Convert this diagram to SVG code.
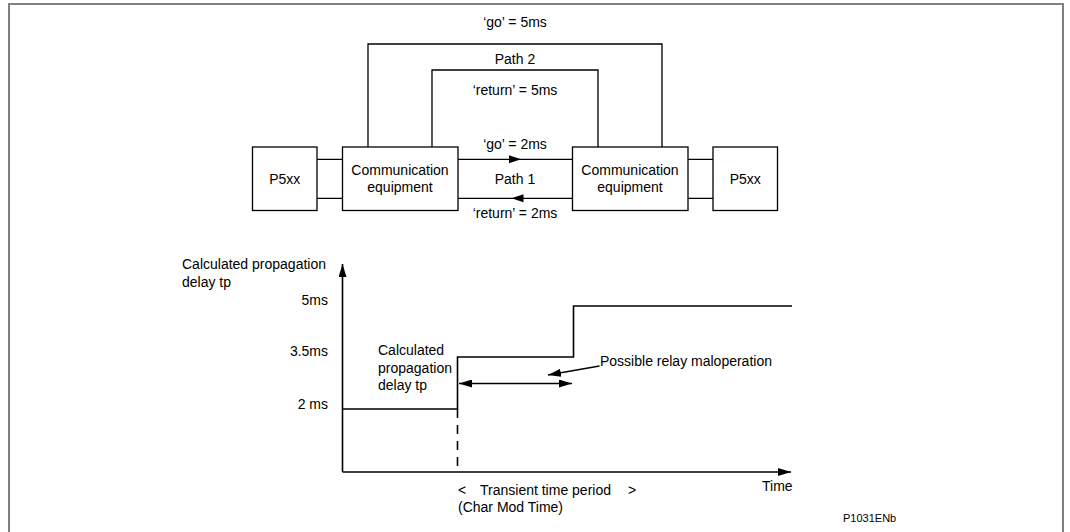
<svg xmlns="http://www.w3.org/2000/svg" width="1070" height="532" viewBox="0 0 1070 532">
<style>
text{font-family:"Liberation Sans",Arial,sans-serif;font-size:14px;fill:#000}
.m{text-anchor:middle}
.e{text-anchor:end}
.box{fill:#fff;stroke:#000;stroke-width:1.3}
.ln{fill:none;stroke:#000;stroke-width:1.3}
.gl{fill:none;stroke:#000;stroke-width:1.6}
.ah{fill:#000;stroke:none}
</style>
<defs>
<marker id="arr" viewBox="0 0 13 8" refX="13" refY="4" markerWidth="13" markerHeight="8" markerUnits="userSpaceOnUse" orient="auto-start-reverse">
<path d="M0,0 L13,4 L0,8 z" class="ah"/>
</marker>
</defs>
<rect width="1070" height="532" fill="#fff"/>
<path d="M9,532 V4 H1063 V532" fill="none" stroke="#808080" stroke-width="2"/>

<g id="connectors">
<path class="ln" d="M368,147 V44 H662 V147"/>
<path class="ln" d="M432,147 V70 H598 V147"/>
<path class="ln" d="M317,159.3 H342 M317,198.3 H342 M688,159.3 H713 M688,198.3 H713"/>
<path class="ln" d="M458,159.3 H572 M458,198.3 H572"/>
<path class="ah" d="M509,155.3 L521,159.3 L509,163.3 z"/>
<path class="ah" d="M523.5,194.3 L511.5,198.3 L523.5,202.3 z"/>
</g>

<g id="labels-top">
<text class="m" x="515" y="27">‘go’ = 5ms</text>
<text class="m" x="515" y="63.5">Path 2</text>
<text class="m" x="515" y="95">‘return’ = 5ms</text>
<text class="m" x="515" y="148.5">‘go’ = 2ms</text>
<text class="m" x="515" y="183.5">Path 1</text>
<text class="m" x="515" y="217.5">‘return’ = 2ms</text>
</g>

<g id="p5xx-left">
<rect class="box" x="252.5" y="147" width="64.5" height="63.5"/>
<text class="m" x="284.7" y="183.5">P5xx</text>
</g>
<g id="comm-left">
<rect class="box" x="342.5" y="147" width="115.5" height="63.5"/>
<text class="m" x="400" y="175">Communication</text>
<text class="m" x="400" y="192">equipment</text>
</g>
<g id="comm-right">
<rect class="box" x="572.5" y="147" width="115.5" height="63.5"/>
<text class="m" x="630" y="175">Communication</text>
<text class="m" x="630" y="192">equipment</text>
</g>
<g id="p5xx-right">
<rect class="box" x="713" y="147" width="64.5" height="63.5"/>
<text class="m" x="745.3" y="183.5">P5xx</text>
</g>

<g id="graph">
<line class="gl" x1="342.5" y1="472" x2="342.5" y2="264" marker-end="url(#arr)"/>
<line class="gl" x1="342.5" y1="472" x2="791" y2="472" marker-end="url(#arr)"/>
<path class="gl" d="M342.5,409 H457.5 V357 H573.5 V306 H792"/>
<line class="gl" x1="457.5" y1="409" x2="457.5" y2="472" stroke-dasharray="9 7"/>
<line class="gl" x1="459" y1="383.5" x2="572" y2="383.5" marker-start="url(#arr)" marker-end="url(#arr)"/>
<line x1="599.5" y1="366" x2="548" y2="375" stroke="#000" stroke-width="1.3" marker-end="url(#arr)"/>
</g>

<g id="labels-graph">
<text x="182" y="269">Calculated propagation</text>
<text x="182" y="287">delay tp</text>
<text class="e" x="328" y="305">5ms</text>
<text class="e" x="328" y="356">3.5ms</text>
<text class="e" x="328" y="408.5">2 ms</text>
<text x="378" y="355">Calculated</text>
<text x="378" y="372.5">propagation</text>
<text x="378" y="390">delay tp</text>
<text x="600" y="366">Possible relay maloperation</text>
<text x="458" y="494.5">&lt;</text>
<text x="480" y="494.5">Transient time period</text>
<text x="628" y="494.5">&gt;</text>
<text x="458" y="512">(Char Mod Time)</text>
<text x="762" y="491">Time</text>
<text x="843" y="522" style="font-size:11px">P1031ENb</text>
</g>
</svg>
